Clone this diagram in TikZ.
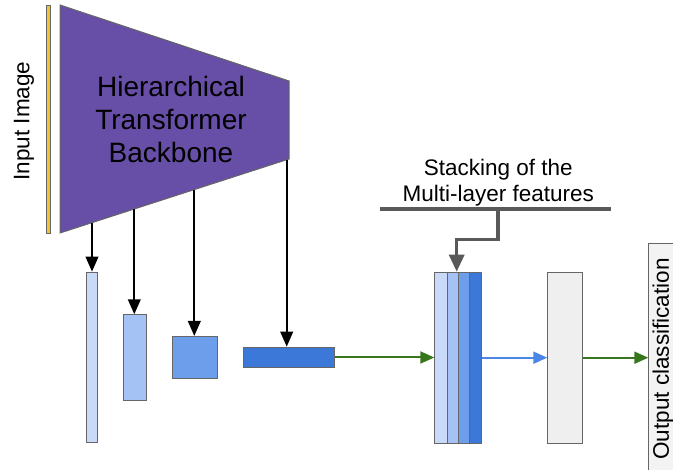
\documentclass[tikz,border=0pt]{standalone}
\usepackage{fontspec}
\setmainfont{Liberation Sans}
\usetikzlibrary{arrows.meta,calc}
\definecolor{purp}{HTML}{674EA7}
\definecolor{yel}{HTML}{F1C232}
\definecolor{bA}{HTML}{C9DAF8}
\definecolor{bB}{HTML}{A4C2F4}
\definecolor{bC}{HTML}{6D9EEB}
\definecolor{bD}{HTML}{3C78D8}
\definecolor{bArrow}{HTML}{4A86E8}
\definecolor{grn}{HTML}{38761D}
\definecolor{edge}{HTML}{666666}
\definecolor{dgray}{HTML}{595959}
\definecolor{lgray}{HTML}{EFEFEF}
\definecolor{lgray2}{HTML}{F3F3F3}
\begin{document}
\begin{tikzpicture}[x=1pt,y=-1pt,
  featbox/.style={draw=edge,line width=1pt,inner sep=0pt,anchor=north west},
  blackarrow/.style={draw=black,line width=2.3pt,-{Triangle[length=15pt,width=12.5pt]}},
  grnarrow/.style={draw=grn,line width=2pt,-{Triangle[length=14pt,width=12pt]}},
  bluearrow/.style={draw=bArrow,line width=2pt,-{Triangle[length=14pt,width=12pt]}},
  lbl/.style={font=\fontsize{22.5}{26}\selectfont,align=center,inner sep=0pt}]
\useasboundingbox (0,0) rectangle (673,470);
% input image bar
\node[featbox,fill=yel,minimum width=3.5pt,minimum height=228pt] (inimg) at (46,5) {};
\node[lbl,rotate=90] (inlbl) at (24,121) {Input Image};
% backbone trapezoid
\coordinate (tl) at (60,5);
\coordinate (tr) at (289,81);
\coordinate (br) at (289,159);
\coordinate (bl) at (60,233);
\draw[fill=purp,draw=edge,line width=1pt] (tl) -- (tr) -- (br) -- (bl) -- cycle;
\node[lbl,font=\fontsize{28}{33}\selectfont] (bb) at (171,119) {Hierarchical\\Transformer\\Backbone};
% feature maps
\node[featbox,fill=bA,minimum width=11.3pt,minimum height=170.3pt] (f1) at (86,271.7) {};
\node[featbox,fill=bB,minimum width=23pt,minimum height=86pt] (f2) at (123,314.3) {};
\node[featbox,fill=bC,minimum width=45.6pt,minimum height=42.3pt] (f3) at (171.7,336) {};
\node[featbox,fill=bD,minimum width=91.6pt,minimum height=20.6pt] (f4) at (242.7,346.7) {};
\coordinate (o1) at ($(bl)!0.1397!(br)$);
\coordinate (o2) at ($(bl)!0.3245!(br)$);
\coordinate (o3) at ($(bl)!0.5865!(br)$);
\coordinate (o4) at ($(bl)!0.99!(br)$);
\draw[blackarrow] (o1) -- (o1 |- f1.north);
\draw[blackarrow] (o2) -- (o2 |- f2.north);
\draw[blackarrow] (o3) -- (o3 |- f3.north);
\draw[blackarrow] (o4) -- (o4 |- f4.north);
% stacked features
\node[featbox,fill=bA,minimum width=12.7pt,minimum height=171pt] (s1) at (434.3,271.7) {};
\node[featbox,fill=bB,minimum width=11.3pt,minimum height=171pt] (s2) at (447,271.7) {};
\node[featbox,fill=bC,minimum width=11pt,minimum height=171pt] (s3) at (458.3,271.7) {};
\node[featbox,fill=bD,minimum width=11.7pt,minimum height=171pt] (s4) at (469.3,271.7) {};
\draw[grnarrow] (f4.east) -- (f4.east -| s1.west);
% classifier box
\node[featbox,fill=lgray,minimum width=34.4pt,minimum height=171pt] (cls) at (547.3,271.7) {};
\draw[bluearrow] (s4.east) -- (s4.east -| cls.west);
% output box
\node[featbox,fill=lgray2,minimum width=40pt,minimum height=250pt] (out) at (648.3,243.3) {};
\node[lbl,rotate=90] (outlbl) at (663,359) {Output classification};
\draw[grnarrow] (cls.east) -- (cls.east -| out.west);
% stacking label
\node[lbl] (stk) at (498.3,183) {Stacking of the\\Multi-layer features};
\coordinate (hl) at (380,209);
\coordinate (hr) at (610.7,209);
\coordinate (hm) at (498,209);
\coordinate (ek) at (456.7,239.3);
\draw[dgray,line width=3.3pt] (hl) -- (hr);
\draw[dgray,line width=3.3pt,-{Triangle[length=17pt,width=15pt]}] (hm) |- (ek) -- (ek |- s2.north);
\end{tikzpicture}
\end{document}
